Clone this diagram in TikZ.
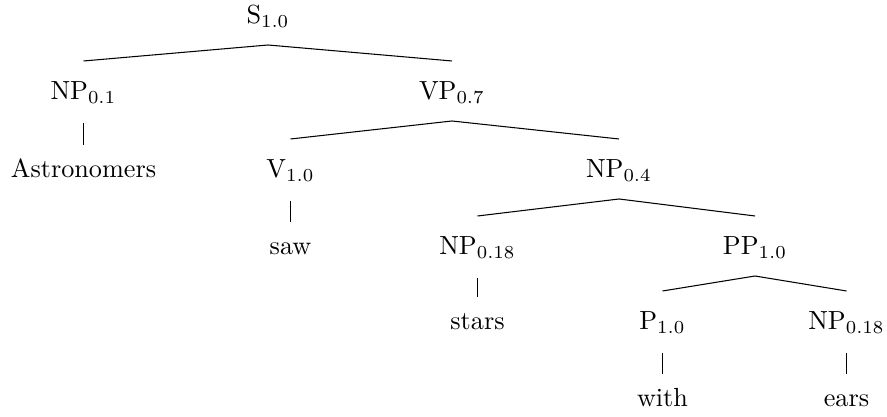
\documentclass[tikz,border=0pt]{standalone}
\begin{document}
\begin{tikzpicture}[x=0.3817pt,y=-0.3817pt,
  lab/.style={anchor=base,inner sep=0pt,outer sep=0pt},
  branch/.style={line width=0.4pt}]
\useasboundingbox (0,0) rectangle (887,417);
% level baselines: 24, 100, 178, 255, 330, 407
\node[lab] (S)   at (268,24)  {$\mathrm{S}_{1.0}$};
\node[lab] (NPa) at (83.5,100)  {$\mathrm{NP}_{0.1}$};
\node[lab] (VP)  at (452,100) {$\mathrm{VP}_{0.7}$};
\node[lab] (Ast) at (83.5,178)  {Astronomers};
\node[lab] (V)   at (290.5,178) {$\mathrm{V}_{1.0}$};
\node[lab] (NPb) at (619,178) {$\mathrm{NP}_{0.4}$};
\node[lab] (saw) at (290.5,255) {saw};
\node[lab] (NPc) at (477.5,255) {$\mathrm{NP}_{0.18}$};
\node[lab] (PP)  at (755,255) {$\mathrm{PP}_{1.0}$};
\node[lab] (stars) at (477.5,330) {stars};
\node[lab] (P)   at (662.5,330) {$\mathrm{P}_{1.0}$};
\node[lab] (NPd) at (846.5,330) {$\mathrm{NP}_{0.18}$};
\node[lab] (with) at (662.5,407) {with};
\node[lab] (ears) at (846.5,407) {ears};
% branches
\foreach \p/\c in {S/NPa,S/VP,VP/V,VP/NPb,NPb/NPc,NPb/PP,PP/P,PP/NPd}
  \draw[branch] ([yshift=-21*0.3817pt]\p.base) -- ([yshift=39*0.3817pt]\c.base);
\foreach \p/\c in {NPa/Ast,V/saw,NPc/stars,P/with,NPd/ears}
  \draw[branch] ([yshift=-23*0.3817pt]\p.base) -- ([yshift=33*0.3817pt]\c.base);
\end{tikzpicture}
\end{document}
